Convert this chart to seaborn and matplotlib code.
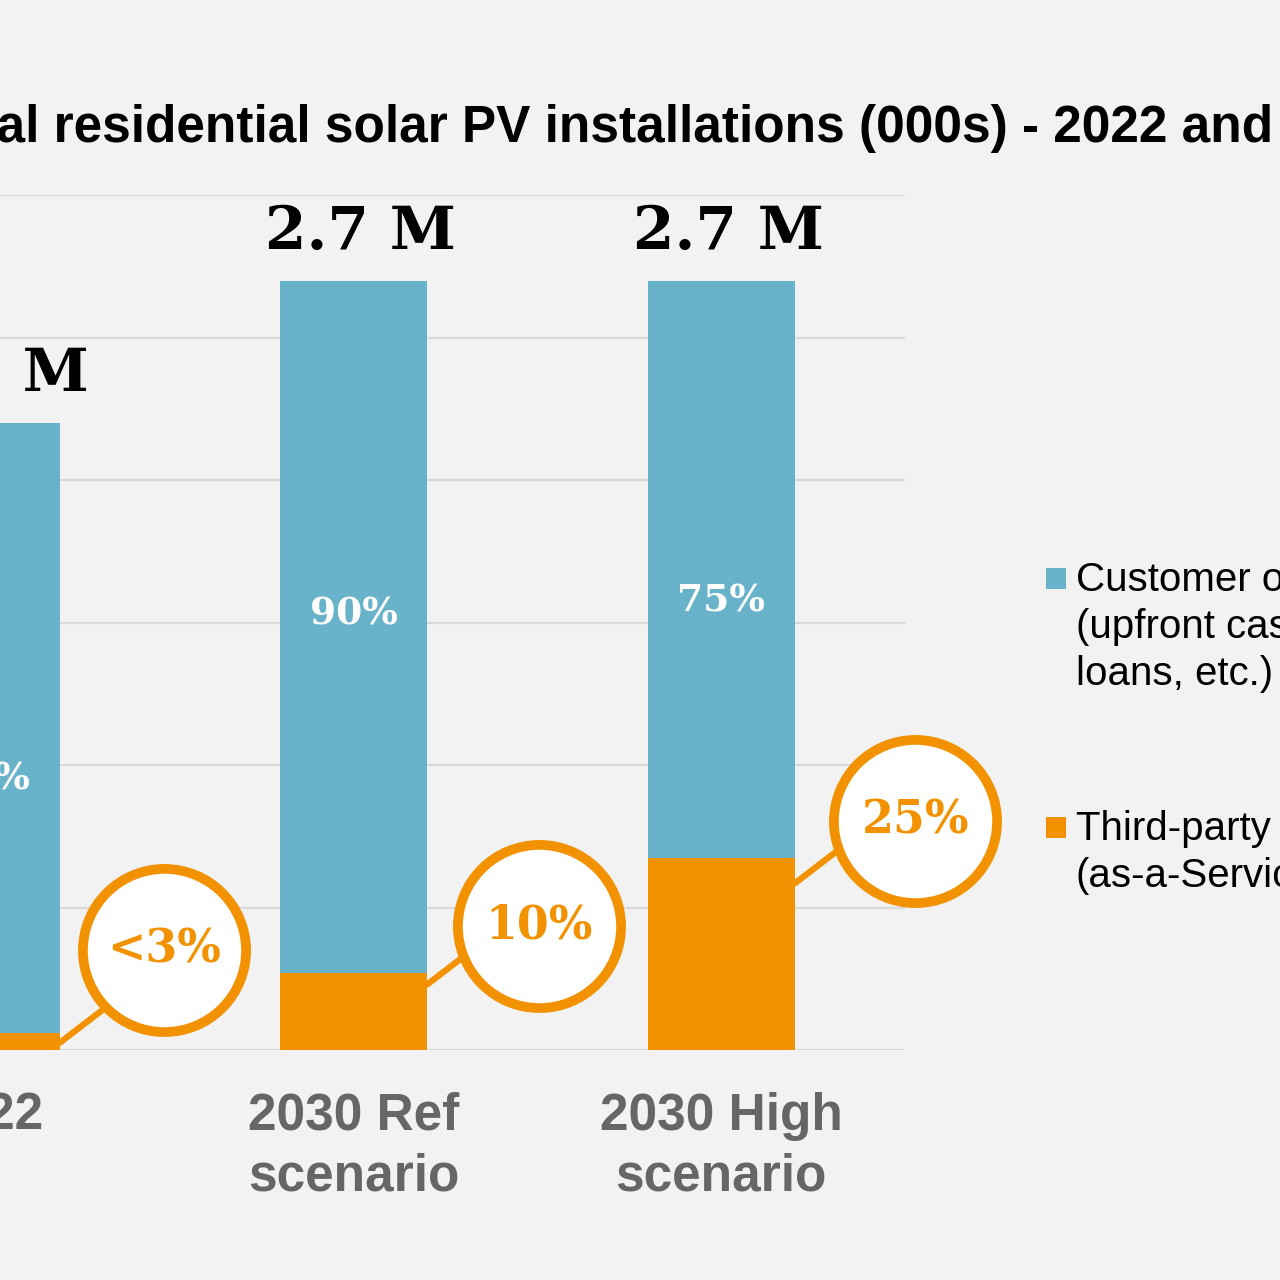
import numpy as np
import seaborn as sns
import matplotlib.pyplot as plt
from matplotlib.patches import Rectangle

# data (millions of installations, share that is third-party owned)
categories = ["2022", "2030 Ref\nscenario", "2030 High\nscenario"]
total_m = [2.2, 2.7, 2.7]
third_share = [0.027, 0.10, 0.25]
customer_labels = ["97%", "90%", "75%"]
third_labels = ["<3%", "10%", "25%"]
legend_labels = ["Customer owned\n(upfront cash,\nloans, etc.)",
                 "Third-party owned\n(as-a-Service)"]

third_m = [t * s for t, s in zip(total_m, third_share)]

BLUE = "#68b3ca"
ORANGE = "#f29200"
GREY = "#666666"
BG = "#f2f2f2"

# callout layout (data units): circle centres, connector start heights, % label heights
circle_xy = [(0.483, 0.352), (1.504, 0.436), (2.528, 0.804)]
line_start_y = [0.025, 0.23, 0.585]
pct_label_y = [0.95, 1.53, 1.575]

sns.set_theme(style="white", rc={"figure.facecolor": BG, "axes.facecolor": BG})
plt.rcParams["font.family"] = ["Liberation Sans", "DejaVu Sans"]

W = 1280
fig = plt.figure(figsize=(12.8, 12.8), dpi=100)
ax = fig.add_axes([-197.8 / W, 230 / W, 1103 / W, 855 / W])

sns.barplot(x=categories, y=total_m, color=BLUE, width=0.4, saturation=1,
            linewidth=0, ax=ax)
sns.barplot(x=categories, y=third_m, color=ORANGE, width=0.4, saturation=1,
            linewidth=0, ax=ax)

ax.set_xlim(-0.5, 2.5)
ax.set_ylim(0, 3.0)
ax.set_yticks(np.arange(0, 3.01, 0.5))
ax.yaxis.grid(True, color="#d9d9d9", linewidth=1.6)
ax.set_axisbelow(True)
ax.tick_params(axis="y", labelleft=False, length=0)
ax.set_xticks(range(len(categories)))
ax.set_xticklabels(categories, fontsize=37, fontweight="bold", color=GREY,
                   linespacing=1.3)
ax.tick_params(axis="x", length=0, pad=30)
ax.set_xlabel("")
ax.set_ylabel("")
for s in ax.spines.values():
    s.set_visible(False)

serif = ["DejaVu Serif"]
for i, (t, th) in enumerate(zip(total_m, third_m)):
    ax.annotate(f"{t:.1f} M", xy=(i, t), xytext=(7, 32), textcoords="offset pixels",
                ha="center", va="baseline", fontsize=43, fontweight="bold",
                family=serif, color="black", annotation_clip=False)
    ax.text(i, pct_label_y[i], customer_labels[i], ha="center", va="center",
            fontsize=27, fontweight="bold", family=serif, color="white")
    # connector line from bar edge into the circle
    ax.annotate("", xy=(i + 0.2, line_start_y[i]), xytext=(60, 46),
                textcoords="offset pixels", annotation_clip=False,
                arrowprops=dict(arrowstyle="-", color=ORANGE, lw=4.5,
                                shrinkA=0, shrinkB=0), zorder=4)
    cx, cy = circle_xy[i]
    ax.scatter([cx], [cy], s=13800, facecolor="white", edgecolor=ORANGE,
               linewidth=7, zorder=5, clip_on=False)
    ax.text(cx, cy, third_labels[i], ha="center", va="center", fontsize=33,
            fontweight="bold", family=serif, color=ORANGE, zorder=6)

fig.text(-135 / W, (W - 142) / W,
         "Annual residential solar PV installations (000s) - 2022 and 2030",
         ha="left", va="baseline", fontsize=37, fontweight="bold", color="black")

# legend (square aligned with the first text line)
for lab, col, ytop in zip(legend_labels, [BLUE, ORANGE], [568, 817]):
    fig.patches.append(Rectangle((1046 / W, (W - ytop - 21) / W), 20 / W, 21 / W,
                                 transform=fig.transFigure, color=col, lw=0))
    nlines = lab.count("\n")
    fig.text(1076 / W, (W - ytop - 23 - 47 * nlines) / W, lab, ha="left",
             va="baseline", fontsize=29, color="black", linespacing=1.3)

fig.savefig("out.png", dpi=100, facecolor=BG)
